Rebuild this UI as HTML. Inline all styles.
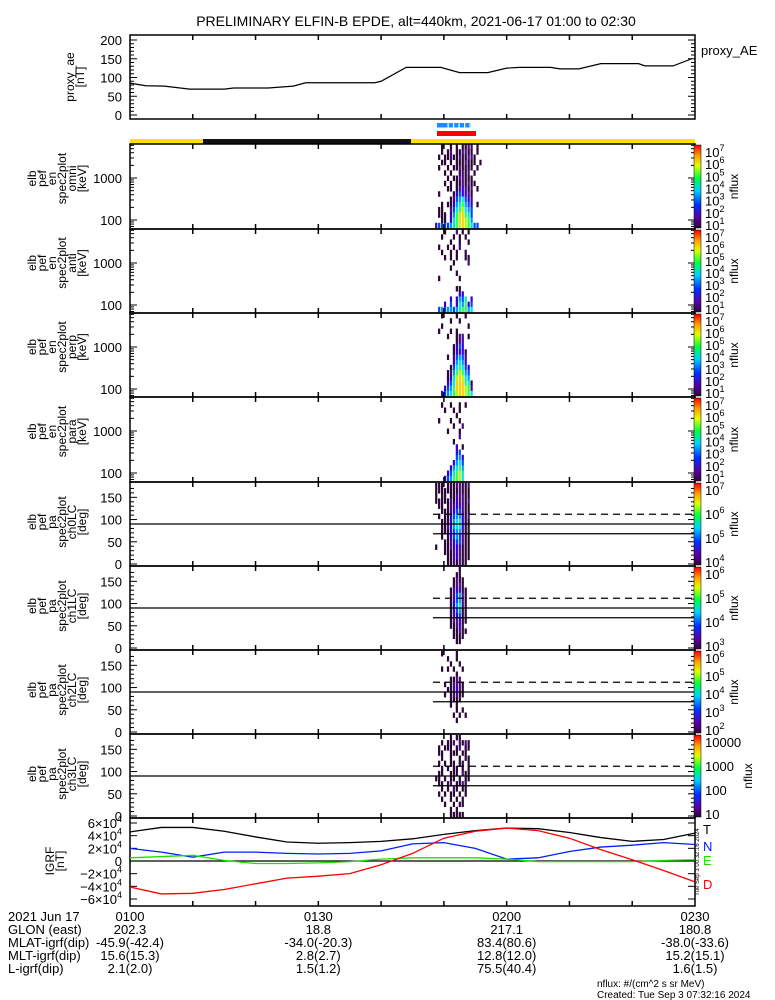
<!DOCTYPE html>
<html><head><meta charset="utf-8"><style>
body{margin:0;background:#fff;}
svg{display:block;font-family:"Liberation Sans",sans-serif;}
</style></head><body>
<svg id="fig" width="775" height="1000" viewBox="0 0 775 1000" xmlns="http://www.w3.org/2000/svg">
<defs>
<linearGradient id="cbar" x1="0" y1="1" x2="0" y2="0">
<stop offset="0" stop-color="#2a0a3a"/><stop offset="0.12" stop-color="#5a00a0"/>
<stop offset="0.28" stop-color="#0030ff"/><stop offset="0.45" stop-color="#00d0ff"/>
<stop offset="0.6" stop-color="#00ff40"/><stop offset="0.75" stop-color="#e0ff00"/>
<stop offset="0.87" stop-color="#ffa000"/><stop offset="1" stop-color="#ff0000"/>
</linearGradient>
</defs>
<text x="416" y="26" font-size="14" text-anchor="middle">PRELIMINARY ELFIN-B EPDE, alt=440km, 2021-06-17 01:00 to 02:30</text>
<g id="g"></g>
</svg>
<script>
// ---- data ----
const aeTimes=[0,2.5,5.5,9.5,15,16.5,22,26,28,39,40,44,49.5,52.5,57,60,62,67,68.5,71.5,75,81,82,86.5,89.5];
const aeValues=[85,78,77,69,69,72,72,77,86,86,90,127,127,113,113,125,127,127,123,123,137,137,131,131,150];
const aeTicks=[0,50,100,150,200];
const igrfTimes=[0,5,10,15,20,25,30,35,40,45,50,55,60,65,70,75,80,85,90];
const igrfT=[46,53,53,47,38,30,28,29,31,35,42,48,52,51,45,37,31,34,44];
const igrfN=[20,14,6,14,14,12,11,12,16,27,29,20,3,5,15,22,25,29,26];
const igrfE=[5,7,9,1,-4,-4,-3,-1,3,5,5,5,3,-1,-1,-1,-1,1,2];
const igrfD=[-41,-52,-51,-45,-36,-27,-24,-20,-6,12,36,47,52,48,36,18,2,-15,-33];
const igrfTicks=[-60,-40,-20,0,20,40,60];
const timeLabels=["0100","0130","0200","0230"];
const glon=["202.3","18.8","217.1","180.8"];
const mlat=["-45.9(-42.4)","-34.0(-20.3)","83.4(80.6)","-38.0(-33.6)"];
const mlt=["15.6(15.3)","2.8(2.7)","12.8(12.0)","15.2(15.1)"];
const lval=["2.1(2.0)","1.5(1.2)","75.5(40.4)","1.6(1.5)"];
const specStart=48.6, specDt=0.47;
const omni=["00100101011220100","00101201122110100","01011211211221000","00110101112111010","01001011211110100","00010100121201000","00001011221110000","00010101121211000","00001101232120100","01000013433210000","00000124564320000","00101135675430100","01100246786540000","01110357897640000","00110367898750000","34444567898764400"];
const anti=["00010002010100000","00100010101000000","00000100100100000","01001010200000000","00100101001000000","00010101001100000","00000010000200000","00000100000000000","00000001000000000","01000000100000000","00000000000000000","00000001100000000","00000000330000000","00000303546030000","00030403657340000","04545545677560000"];
const perp=["00100001001000000","00000100100000000","00100000000100000","01000101000000000","00001001220100000","00000001230000000","00000013430000000","00000013331000000","00001024542000000","00000035653000000","00000146764300000","00001257875400000","00001368986500000","00003469997610000","00034579998720000","00345678998760000"];
const para=["00000000000000000","00100100101000000","00010010100000000","00000001000000000","01000100100000000","00000010020000000","00001000100000000","00000000200000000","00000010000000000","00000003010000000","00000003400000000","00000004530000000","00000035640000000","00000356750000000","00003467860000000","00034577860000000"];
const ch0=["11101112211200000","11111111211100000","10110112221100000","11111213221200000","01101223321100000","00111234421100000","01011345531200000","00111356631100000","00112356631100000","00111345521100000","00101345421100000","00011234421100000","10011233311100000","00011123211100000","00001123211100000","00001121211000000"];
const ch1=["00000000100000000","00000001100000000","00000012110000000","00000012210000000","00000123311000000","00000124521000000","00000134521000000","00000135621000000","00000134511000000","00000123411000000","00000122311000000","00000112310000000","00000011211000000","00000011110000000","00000001100000000","00000000000000000"];
const ch2=["00100001000000000","00001001000000000","00000100100000000","00101010010000000","00000001000000000","00000112200000000","00010122210000000","00001123210000000","00010122110000000","00000111100000000","00000101000000000","00000001010000000","00000010101000000","00000001000000000","00000000000000000","00000000000000000"];
const ch3=["00000101100000000","00101120212100000","01011101201100000","01100111011000000","00100100101100000","01010110110100000","00101011010100000","01100111021100000","11010110101100000","01101201121000000","00101021011000000","01010110101000000","00100101010000000","00010010110000000","00000101000000000","00000111110000000"];
const cbOmni=["7","6","5","4","3","2","1"];
const cbPA0=["7","6","5","4"],cbPA1=["6","5","4","3"],cbPA2=["6","5","4","3","2"],cbPA3=["10000","1000","100","10"];

const NS="http://www.w3.org/2000/svg";
const G=document.getElementById('g');
function el(tag,attrs,parent){const e=document.createElementNS(NS,tag);for(const k in attrs)e.setAttribute(k,attrs[k]);(parent||G).appendChild(e);return e;}
const X0=130,X1=695;
function xt(t){return X0+t*(X1-X0)/90;}
const colors=["","#2c0838","#4a0a82","#3400d8","#0048ff","#0098ff","#00e6e0","#30ff50","#b0ff00","#ffd000"];

function frame(y0,y1,name){
  const r=el('rect',{x:X0,y:y0,width:X1-X0,height:y1-y0,fill:'none',stroke:'#000','stroke-width':1.5});
  
  
  for(let t=10;t<90;t+=10){
    el('line',{x1:xt(t),x2:xt(t),y1:y0,y2:y0+5,stroke:'#000','stroke-width':1.5});
    el('line',{x1:xt(t),x2:xt(t),y1:y1,y2:y1-5,stroke:'#000','stroke-width':1.5});
  }
}
function ylabel(lines,cx,cy,name){
  const g=el('g',{});
  
  
  const n=lines.length;
  lines.forEach((s,i)=>{
    const x=cx-(n-1)*5+i*10;
    const t=el('text',{x:x,y:cy,'font-size':12,'text-anchor':'middle',transform:`rotate(-90 ${x} ${cy})`,'dominant-baseline':'central'},g);
    t.textContent=s;
  });
}
function ytickLabel(txt,y){const t=el('text',{x:122,y:y+5,'font-size':13,'text-anchor':'end'});t.textContent=txt;
  el('line',{x1:X0,x2:X0+7,y1:y,y2:y,stroke:'#000'});el('line',{x1:X1,x2:X1-7,y1:y,y2:y,stroke:'#000'});}
function minor(y){el('line',{x1:X0,x2:X0+4,y1:y,y2:y,stroke:'#000'});el('line',{x1:X1,x2:X1-4,y1:y,y2:y,stroke:'#000'});}

function cells(mat,y0,y1,name){
  const rows=mat.length,rh=(y1-y0)/rows;
  const g=el('g',{});
  
  
  mat.forEach((row,ri)=>{
    for(let ci=0;ci<row.length;ci++){
      const v=+row[ci]; if(!v)continue;
      const xa=xt(specStart+ci*specDt),xb=xt(specStart+(ci+1)*specDt);
      const r=el('rect',{x:xa,y:y0+ri*rh,width:(xb-xa)*0.75,height:rh+0.3,fill:colors[v]},g);
      
      
    }
  });
}
function colorbar(y0,y1,labels,exp,name){
  const r=el('rect',{x:694,y:y0+1,width:7,height:y1-y0-2,fill:'url(#cbar)',stroke:'#000','stroke-width':0.5});
  
  
  const n=labels.length;
  labels.forEach((l,i)=>{
    const y=y0+8+i*(y1-y0-12)/(n-1);
    const t=el('text',{x:705,y:y+5,'font-size':13});
    if(exp){t.textContent='10';const s=el('tspan',{dy:-6,'font-size':9},t);s.textContent=l;}
    else t.textContent=l;
  });
  const cx=exp?738:752,cy=(y0+y1)/2;
  const t=el('text',{x:cx,y:cy,'font-size':12,'text-anchor':'middle',transform:`rotate(-90 ${cx} ${cy})`});t.textContent='nflux';
}

// proxy AE
(function(){
  const y0=35,y1=119; const ya=v=>115-v*75/200;
  frame(y0,y1,'proxy-ae');
  aeTicks.forEach(v=>ytickLabel(String(v),ya(v)));
  for(let v=10;v<200;v+=10) if(v%50) minor(ya(v));
  const p=el('polyline',{points:aeTimes.map((t,i)=>xt(t)+','+ya(aeValues[i])).join(' '),fill:'none',stroke:'#000','stroke-width':1.2});
  
  
  ylabel(['proxy_ae','[nT]'],75,77,'proxy-ae-axis-title');
  const t=el('text',{x:701,y:55,'font-size':13});t.textContent='proxy_AE';
})();
// bars
(function(){
  const b=el('g',{});
  
  
  el('rect',{x:437,y:123,width:34,height:4.5,fill:'#1a8cff'},b);
  for(let i=1;i<6;i++) el('rect',{x:442+i*5.5,y:123,width:1.2,height:4.5,fill:'#fff'},b);
  el('rect',{x:437,y:131,width:39,height:5,fill:'#ff0000'},b);
  el('rect',{x:130,y:139,width:565,height:5,fill:'#ffe000'},b);
  el('rect',{x:203,y:139,width:208,height:5,fill:'#111'},b);
})();
// energy panels
const epanels=[[144,229,omni,'omni'],[229,313,anti,'anti'],[313,397,perp,'perp'],[397,482,para,'para']];
epanels.forEach(([y0,y1,mat,nm])=>{
  cells(mat,y0,y1-1,'spec-'+nm);
  frame(y0,y1,'spec-'+nm);
  const ye=e=>(y0+34)-Math.log10(e/1000)*42;
  ytickLabel('1000',ye(1000));ytickLabel('100',ye(100));
  [60,70,80,90,200,300,400,500,600,700,800,900,2000,3000,4000,5000,6000].forEach(e=>{const y=ye(e);if(y>y0&&y<y1)minor(y);});
  ylabel(['elb','pef','en','spec2plot',nm,'[keV]'],57,(y0+y1)/2-8,'spec-'+nm+'-axis-title');
  colorbar(y0,y1,cbOmni,true,'spec-'+nm);
});
// PA panels
const ppanels=[[482,566,ch0,'ch0LC',cbPA0,true],[566,650,ch1,'ch1LC',cbPA1,true],[650,734,ch2,'ch2LC',cbPA2,true],[734,818,ch3,'ch3LC',cbPA3,false]];
ppanels.forEach(([y0,y1,mat,nm,cb,ex])=>{
  const yp=d=>y1-2-d*(y1-y0-4)/180;
  cells(mat,y0+1,y1-1,'pa-'+nm);
  frame(y0,y1,'pa-'+nm);
  [0,50,100,150].forEach(d=>ytickLabel(String(d),yp(d)));
  for(let d=10;d<180;d+=10) if(d%50) minor(yp(d));
  const a=el('line',{x1:X0,x2:X1,y1:yp(90),y2:yp(90),stroke:'#000','stroke-width':1.3});
  
  const b=el('line',{x1:433,x2:X1,y1:yp(68),y2:yp(68),stroke:'#000','stroke-width':1.3});
  
  const c=el('line',{x1:433,x2:X1,y1:yp(112),y2:yp(112),stroke:'#000','stroke-width':1.3,'stroke-dasharray':'7,5'});
  
  ylabel(['elb','pef','pa','spec2plot',nm,'[deg]'],57,(y0+y1)/2-2,'pa-'+nm+'-axis-title');
  colorbar(y0,y1,cb,ex,'pa-'+nm);
});
// IGRF
(function(){
  const y0=818,y1=906; const yv=v=>861-v*38/60;
  frame(y0,y1,'igrf');
  igrfTicks.forEach(v=>{const y=yv(v);
    const t=el('text',{x:122,y:y+5,'font-size':13,'text-anchor':'end'});
    if(v==0)t.textContent='0';else{const s=el('tspan',{dy:-6,'font-size':9});s.textContent='4';t.textContent=(v<0?'−':'')+Math.abs(v/10)+'×10';t.appendChild(s);}
    el('line',{x1:X0,x2:X0+7,y1:y,y2:y,stroke:'#000'});el('line',{x1:X1,x2:X1-7,y1:y,y2:y,stroke:'#000'});
  });
  el('line',{x1:X0,x2:X1,y1:yv(0),y2:yv(0),stroke:'#000','stroke-width':1.3});
  [[igrfT,'#000','igrf-t-line'],[igrfN,'#0020ff','igrf-n-line'],[igrfE,'#20e000','igrf-e-line'],[igrfD,'#ff0000','igrf-d-line']].forEach(([arr,c,nm])=>{
    const p=el('polyline',{points:igrfTimes.map((t,i)=>xt(t)+','+yv(arr[i])).join(' '),fill:'none',stroke:c,'stroke-width':1.3});
    
    
  });
  ylabel(['IGRF','[nT]'],55,861,'igrf-axis-title');
  [['T',829,'#000'],['N',846,'#0020ff'],['E',860,'#20e000'],['D',884,'#ff0000']].forEach(([s,y,c])=>{const t=el('text',{x:703,y:y+5,'font-size':13,fill:c});t.textContent=s;});
  const t=el('text',{x:699,y:862,'font-size':6,'text-anchor':'middle',transform:'rotate(-90 699 862)'});t.textContent='Tue Sep  3 00:32:16 2024';
})();
// footer
(function(){
  const g=el('g',{});
  
  
  const rows=[['2021 Jun 17',timeLabels],['GLON (east)',glon],['MLAT-igrf(dip)',mlat],['MLT-igrf(dip)',mlt],['L-igrf(dip)',lval]];
  rows.forEach(([lab,vals],i)=>{
    const y=921+i*13;
    const t=el('text',{x:8,y:y,'font-size':13},g);t.textContent=lab;
    vals.forEach((v,j)=>{const tt=el('text',{x:xt(j*30),y:y,'font-size':13,'text-anchor':'middle'},g);tt.textContent=v;});
  });
  const a=el('text',{x:597,y:987,'font-size':10},g);a.textContent='nflux: #/(cm^2 s sr MeV)';
  const b=el('text',{x:597,y:998,'font-size':10},g);b.textContent='Created: Tue Sep  3 07:32:16 2024';
})();
</script>
</body></html>
